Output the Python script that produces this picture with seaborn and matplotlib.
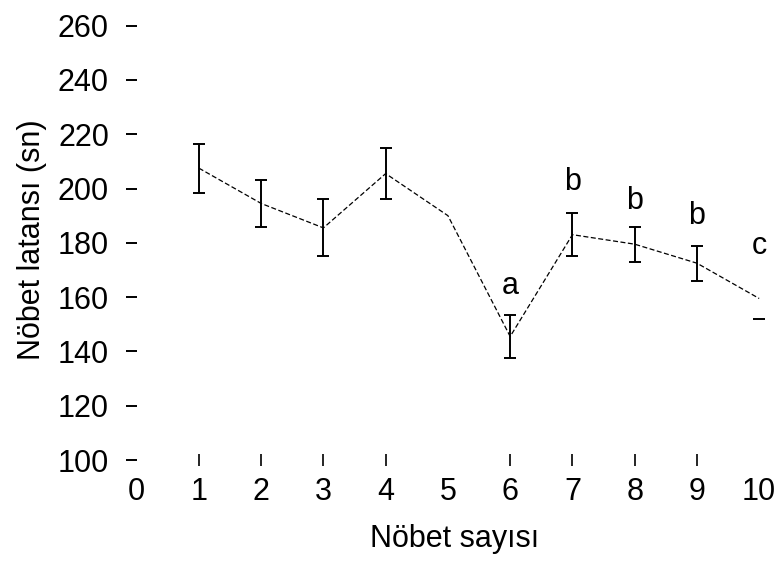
import numpy as np
import pandas as pd
import matplotlib
matplotlib.use("Agg")
import matplotlib.pyplot as plt
import seaborn as sns

# --- data ---
seizure_no = [1, 2, 3, 4, 5, 6, 7, 8, 9, 10]
latency = [207.5, 194.5, 185.5, 205.5, 190, 145.5, 183, 179.5, 172.5, 159.5]
err_x = [1, 2, 3, 4, 6, 7, 8, 9]
err_y = [207.5, 194.5, 185.5, 205.5, 145.5, 183, 179.5, 172.5]
err_val = [9, 8.5, 10.5, 9.5, 8, 8, 6.5, 6.5]
last_cap_x = [10]
last_cap_y = [152]
sig_x = [6, 7, 8, 9, 10]
sig_y = [164, 202.5, 195.5, 190, 179]
sig_txt = ["a", "b", "b", "b", "c"]
xtick_vals = list(range(0, 11))
ytick_vals = list(range(100, 261, 20))
marked_x = [1, 2, 3, 4, 6, 7, 8, 9]   # x ticks that show a tick mark

df = pd.DataFrame({"Nöbet sayısı": seizure_no, "latans": latency})

sns.set_theme(style="white")
plt.rcParams["font.family"] = ["Liberation Sans", "DejaVu Sans"]
plt.rcParams["text.color"] = "black"
plt.rcParams["axes.labelcolor"] = "black"
plt.rcParams["xtick.color"] = "black"
plt.rcParams["ytick.color"] = "black"

fig = plt.figure(figsize=(7.81, 5.61), dpi=100)
ax = fig.add_axes([0.175, 0.18, 0.813, 0.784])

sns.lineplot(data=df, x="Nöbet sayısı", y="latans", ax=ax, color="black",
             linewidth=0.9, linestyle=(0, (4, 2)), errorbar=None)
ax.errorbar(err_x, err_y, yerr=err_val, fmt="none", ecolor="black",
            elinewidth=1.4, capsize=4, capthick=1.4)
ax.plot(last_cap_x, last_cap_y, marker="_", color="black", markersize=8,
        markeredgewidth=1.4, linestyle="none")

for x, y, t in zip(sig_x, sig_y, sig_txt):
    ax.text(x, y, t, ha="center", va="center", fontsize=22, color="black")

ax.set_xlim(0, 10.2)
ax.set_ylim(100, 262)
ax.set_xticks(xtick_vals)
ax.set_yticks(ytick_vals)
ax.tick_params(axis="x", which="major", bottom=True, length=9, width=1.2,
               direction="inout", pad=8, labelsize=22)
ax.tick_params(axis="y", which="major", left=True, length=8, width=1.4,
               direction="out", pad=12, labelsize=22)
# the reference shows no tick mark at 0, 5 and 10
for val, tick in zip(xtick_vals, ax.xaxis.get_major_ticks()):
    if val not in marked_x:
        tick.tick1line.set_visible(False)
for s in ax.spines.values():
    s.set_visible(False)

ax.set_xlabel("Nöbet sayısı", fontsize=22, labelpad=12)
ax.set_ylabel("Nöbet latansı (sn)", fontsize=22, labelpad=8)

fig.savefig("out.png", dpi=100)
